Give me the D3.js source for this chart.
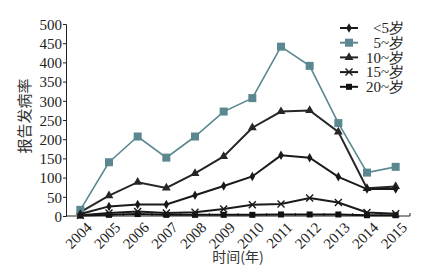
<!DOCTYPE html>
<html>
<head>
<meta charset="utf-8">
<script src="https://cdn.jsdelivr.net/npm/d3@7"></script>
<style>
  body { margin: 0; background: #fff; }
  svg { display: block; }
  text { font-family: "Liberation Serif", "DejaVu Serif", serif; fill: #222; }
</style>
</head>
<body>
<div id="chart"></div>
<script>
// ---------------- DATA ----------------
const years = ["2004","2005","2006","2007","2008","2009","2010","2011","2012","2013","2014","2015"];
const under5  = [5, 25, 30, 30, 54, 78, 103, 158, 152, 102, 70, 70];
const age5    = [16, 140, 207, 152, 207, 272, 307, 441, 391, 242, 113, 128];
const age10   = [10, 53, 88, 73, 111, 155, 230, 272, 275, 219, 72, 77];
const age15   = [2, 8, 12, 8, 10, 18, 29, 31, 47, 35, 9, 6];
const age20   = [1, 3, 5, 3, 3, 3, 3, 4, 4, 4, 2, 2];
const yTicks  = [0,50,100,150,200,250,300,350,400,450,500];

const series = [
  {name: "<5岁",  values: under5, color: "#1a1a1a", marker: "diamond"},
  {name: "5~岁",  values: age5,   color: "#5b8890", marker: "square"},
  {name: "10~岁", values: age10,  color: "#262626", marker: "triangle"},
  {name: "15~岁", values: age15,  color: "#1a1a1a", marker: "cross"},
  {name: "20~岁", values: age20,  color: "#111111", marker: "smallsquare"}
];

// ---------------- LAYOUT ----------------
const width = 430, height = 273;
const margin = {top: 24, right: 20, bottom: 57, left: 66};

const svg = d3.select("#chart").append("svg")
  .attr("width", width)
  .attr("height", height);

const x = d3.scaleBand().domain(years).range([margin.left, width - margin.right]);
const y = d3.scaleLinear().domain([0, 500]).range([height - margin.bottom, margin.top]);
const cx = d => x(d) + x.bandwidth() / 2;

// ---------------- AXES ----------------
const yAxis = svg.append("g")
  .attr("transform", `translate(${margin.left},0)`)
  .call(d3.axisLeft(y).tickValues(yTicks).tickSize(3).tickPadding(1));
yAxis.select(".domain").attr("stroke", "#222");
yAxis.selectAll("line").attr("stroke", "#222");
yAxis.selectAll("text").style("font-size", "15px").attr("dy", "0.35em");

const xBase = y(0);
const xAxis = svg.append("g").attr("transform", `translate(0,${xBase})`);
xAxis.append("line")
  .attr("x1", margin.left).attr("x2", width - margin.right)
  .attr("stroke", "#222");
// ticks at band boundaries
xAxis.selectAll(".tk")
  .data(years.slice(1).concat(["end"]))
  .enter().append("line")
  .attr("x1", (d, i) => i < years.length - 1 ? x(d) : x(years[years.length - 1]) + x.bandwidth())
  .attr("x2", (d, i) => i < years.length - 1 ? x(d) : x(years[years.length - 1]) + x.bandwidth())
  .attr("y1", 0).attr("y2", -3)
  .attr("stroke", "#222");
xAxis.selectAll(".lbl")
  .data(years)
  .enter().append("text")
  .attr("transform", d => `translate(${cx(d) + 5},${5}) rotate(-45)`)
  .attr("text-anchor", "end")
  .attr("dy", "0.7em")
  .style("font-size", "15px")
  .text(d => d);

// axis titles
svg.append("text")
  .attr("transform", `translate(30,116) rotate(-90)`)
  .attr("text-anchor", "middle")
  .style("font-family", "'Noto Sans CJK SC', sans-serif")
  .style("font-size", "15px")
  .style("fill", "#333")
  .text("报告发病率");

svg.append("text")
  .attr("x", 238)
  .attr("y", 262)
  .attr("text-anchor", "middle")
  .style("font-family", "'Noto Sans CJK SC', sans-serif")
  .style("font-size", "14px")
  .style("fill", "#333")
  .text("时间(年)");

// ---------------- MARKERS ----------------
function drawMarker(g, type, color) {
  if (type === "diamond") {
    g.append("path").attr("d", d3.symbol(d3.symbolDiamond, 26)()).attr("fill", color);
  } else if (type === "square") {
    g.append("rect").attr("x", -4).attr("y", -4).attr("width", 8).attr("height", 8).attr("fill", color);
  } else if (type === "triangle") {
    g.append("path").attr("d", d3.symbol(d3.symbolTriangle, 34)()).attr("fill", color);
  } else if (type === "cross") {
    g.append("path").attr("d", "M-3.5,-3.5L3.5,3.5M-3.5,3.5L3.5,-3.5")
      .attr("stroke", color).attr("stroke-width", 1.4);
  } else {
    g.append("rect").attr("x", -3).attr("y", -3).attr("width", 6).attr("height", 6).attr("fill", color);
  }
}

// ---------------- LINES ----------------
const line = d3.line().x((v, i) => cx(years[i])).y(v => y(v));

series.slice().reverse().forEach(s => {
  svg.append("path")
    .attr("d", line(s.values))
    .attr("fill", "none")
    .attr("stroke", s.color)
    .attr("stroke-width", s.marker === "square" ? 1.6 : 2);
  s.values.forEach((v, i) => {
    const g = svg.append("g").attr("transform", `translate(${cx(years[i])},${y(v)})`);
    drawMarker(g, s.marker, s.color);
  });
});

// ---------------- LEGEND ----------------
const legend = svg.append("g");
series.forEach((s, i) => {
  const ly = 28 + i * 14.7;
  legend.append("line")
    .attr("x1", 340).attr("x2", 358)
    .attr("y1", ly).attr("y2", ly)
    .attr("stroke", s.color).attr("stroke-width", 2);
  const g = legend.append("g").attr("transform", `translate(349,${ly})`);
  drawMarker(g, s.marker, s.color);
  legend.append("text")
    .attr("x", 404).attr("y", ly)
    .attr("dy", "0.35em")
    .attr("text-anchor", "end")
    .style("font-size", "15px")
    .text(s.name);
});
</script>
</body>
</html>
